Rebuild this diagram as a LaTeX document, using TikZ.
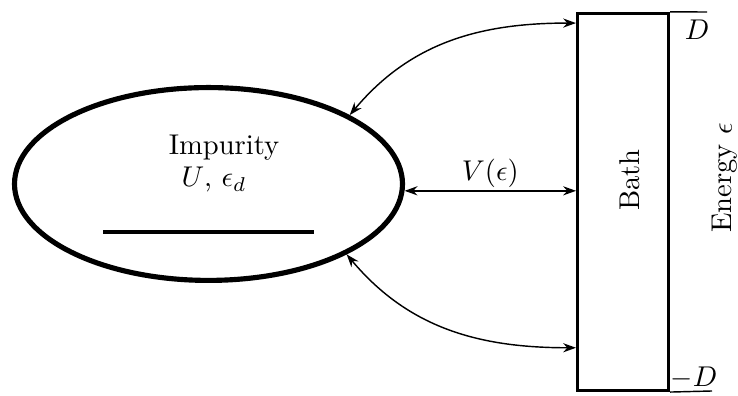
\documentclass[tikz,border=0pt]{standalone}
\usetikzlibrary{arrows.meta,shapes.geometric,calc}
\begin{document}
\begin{tikzpicture}[x=0.35pt,y=0.35pt,
  conn/.style={line width=0.5pt,{Stealth[length=4.5pt,width=3.2pt]}-{Stealth[length=4.5pt,width=3.2pt]}},
  tick/.style={line width=0.5pt}]
\useasboundingbox (0,0) rectangle (738,396);
\node[ellipse,draw,line width=1.8pt,minimum width=135.8pt,minimum height=67.5pt,inner sep=0pt] (imp) at (208.5,212) {};
\node (implabel) at (224,248) {Impurity};
\node (params) at (214,216) {$U$, $\epsilon_d$};
\coordinate (lvlL) at (103,164);
\coordinate (lvlR) at (314,164);
\draw[line width=1.1pt] (lvlL) -- (lvlR);
\node[rectangle,draw,line width=1.05pt,minimum width=31.85pt,minimum height=132pt,inner sep=0pt] (bath) at (623,194) {};
\node[rotate=90] (bathlabel) at (630,216) {Bath};
\node[rotate=90] (energy) at (725,218) {Energy $\epsilon$};
\coordinate (tT) at (707,384);
\coordinate (tB) at (712,5);
\draw[tick] (bath.north east) -- (tT);
\draw[tick] (bath.south east) -- (tB);
\node (D) at (697,366) {$D$};
\node (mD) at (694,18) {$-D$};
\draw[conn] (imp.-2.6) -- node[above,inner sep=1pt] {$V(\epsilon)$} (imp.-2.6 -| bath.west);
\draw[conn] ([yshift=-3.9pt]bath.north west) to[out=180,in=50] (imp.26.3);
\draw[conn] ([yshift=15.5pt]bath.south west) to[out=180,in=-50] (imp.-27.3);
\end{tikzpicture}
\end{document}
